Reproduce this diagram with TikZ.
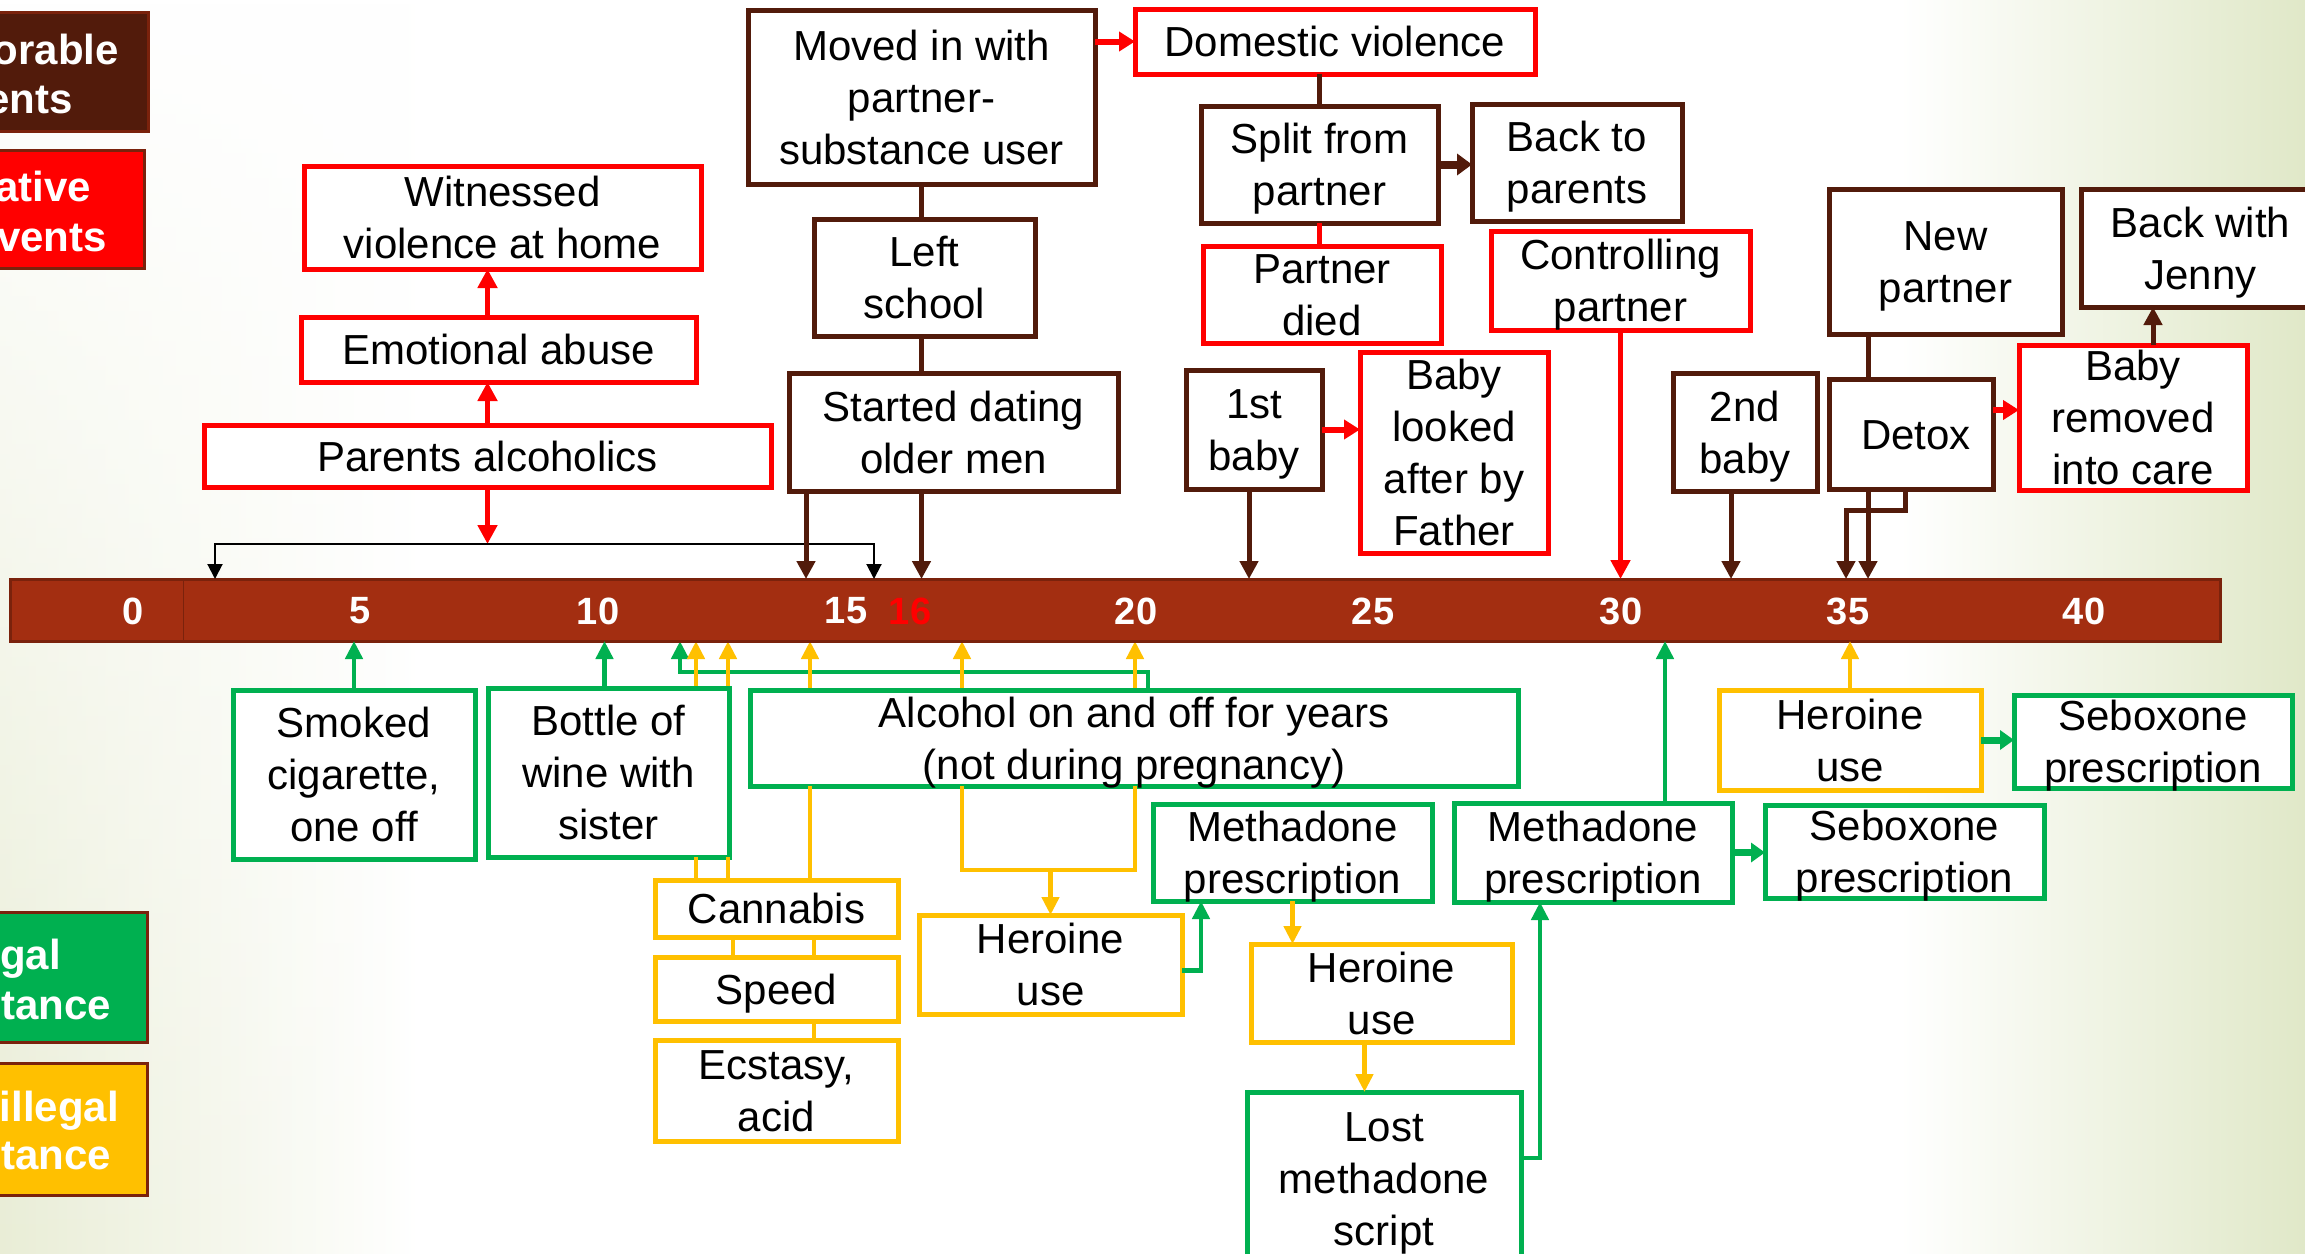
\documentclass[tikz,border=0pt]{standalone}
\usepackage{fontspec}
\setmainfont{Liberation Sans}
\usetikzlibrary{arrows.meta,fadings}
\definecolor{brn}{HTML}{521B0B}
\definecolor{rd}{HTML}{FF0000}
\definecolor{grn}{HTML}{00B050}
\definecolor{ylw}{HTML}{FFC000}
\definecolor{barf}{HTML}{A32E11}
\definecolor{bard}{HTML}{7A220C}
\definecolor{tint}{HTML}{E0E8C8}
\definecolor{tintl}{HTML}{E9EDD6}
\pgfdeclarelayer{back}
\pgfdeclarelayer{bg}
\pgfsetlayers{back,bg,main}
\newcommand\mybox[7]{\node[#2,minimum width={(#5)-(#3)},minimum height={(#6)-(#4)}] (#1) at ({((#3)+(#5))/2},{((#4)+(#6))/2}) {#7};}
\newcommand\tb[1]{\raisebox{-5pt}[\dimexpr\height-10pt\relax][\dimexpr\depth-10pt\relax]{\begin{tabular}{@{}c@{}}#1\end{tabular}}}
\tikzset{
  box/.style={draw, line width=5pt, fill=white, inner sep=0pt, outer sep=0pt, text=black, font=\fontsize{42}{52}\selectfont},
  bbox/.style={box, draw=brn},
  rbox/.style={box, draw=rd},
  gbox/.style={box, draw=grn},
  ybox/.style={box, draw=ylw},
  legbox/.style={inner sep=0pt, outer sep=0pt, line width=3pt, draw=bard},
  legtext/.style={anchor=base east, inner sep=0pt, text=white, font=\fontsize{42}{52}\selectfont\bfseries},
  tick/.style={inner sep=0pt, text=white, font=\fontsize{38}{40}\selectfont\bfseries},
  ra/.style={draw=rd, line width=5pt, -{Triangle[width=19pt,length=19pt]}},
  rline/.style={draw=rd, line width=5pt},
  rshort/.style={draw=rd, line width=6pt, -{Triangle[width=19pt,length=16pt]}},
  ba/.style={draw=brn, line width=5pt, -{Triangle[width=18pt,length=18pt]}},
  bline/.style={draw=brn, line width=5pt},
  bshort/.style={draw=brn, line width=8pt, -{Triangle[width=21pt,length=15pt]}},
  ya/.style={draw=ylw, line width=4.5pt, -{Triangle[width=17pt,length=18pt]}},
  yline/.style={draw=ylw, line width=4.5pt},
  ga/.style={draw=grn, line width=4.5pt, -{Triangle[width=17pt,length=18pt]}},
  gshort/.style={draw=grn, line width=7pt, -{Triangle[width=19pt,length=14pt]}},
  kline/.style={draw=black, line width=2pt}
}
\begin{document}
\begin{tikzpicture}[x=1pt,y=-1pt]
\useasboundingbox (0,0) rectangle (2305,1253);
\clip (0,0) rectangle (2305,1253);
\begin{pgfonlayer}{back}
  \fill[white] (0,0) rectangle (2305,1253);
  \shade[left color=tintl, right color=white, path fading=north] (0,0) rectangle (420,1253);
  \shade[left color=white, right color=tint] (1900,0) rectangle (2305,1253);
\end{pgfonlayer}

% legend
\mybox{lgA}{legbox,fill=brn}{-30}{12}{148}{131}{}
\mybox{lgB}{legbox,fill=rd}{-30}{150}{144}{268}{}
\mybox{lgC}{legbox,fill=grn}{-30}{912}{147}{1042}{}
\mybox{lgD}{legbox,fill=ylw}{-30}{1063}{147}{1195}{}
\node[legtext] (lgAa) at (119,64) {orable};
\node[legtext] (lgAb) at (73,113) {ents};
\node[legtext] (lgBa) at (91,201) {ative};
\node[legtext] (lgBb) at (107,251) {vents};
\node[legtext] (lgCa) at (61,969) {gal};
\node[legtext] (lgCb) at (111,1019) {tance};
\node[legtext] (lgDa) at (119,1121) {illegal};
\node[legtext] (lgDb) at (111,1169) {tance};

% timeline bar
\node[draw=bard, fill=barf, line width=3pt, inner sep=0pt, outer sep=0pt, minimum width=2210pt, minimum height=62pt] (bar) at (1115,610) {};
\draw[bard, line width=1pt] ([xshift=173pt]bar.north west) -- ([xshift=173pt]bar.south west);
\node[tick] (t0) at (133,611) {0};
\node[tick] (t5) at (360,611) {5};
\node[tick] (t10) at (598,611) {10};
\node[tick] (t15) at (846,611) {15};
\node[tick, text=rd] (t16) at (910,611) {16};
\node[tick] (t20) at (1136,611) {20};
\node[tick] (t25) at (1373,611) {25};
\node[tick] (t30) at (1621,611) {30};
\node[tick] (t35) at (1848,611) {35};
\node[tick] (t40) at (2084,611) {40};

% upper boxes
\mybox{witn}{rbox}{304}{166}{701}{269}{\tb{Witnessed\\violence at home}}
\mybox{emo}{rbox}{301}{317}{696}{382}{\tb{Emotional abuse}}
\mybox{par}{rbox}{204}{425}{771}{487}{\tb{Parents alcoholics}}
\mybox{moved}{bbox}{748}{10}{1095}{184}{\tb{Moved in with\\partner-\\substance user}}
\mybox{dom}{rbox}{1135}{9}{1535}{74}{\tb{Domestic violence}}
\mybox{lschool}{bbox}{814}{219}{1035}{336}{\tb{Left\\school}}
\mybox{start}{bbox}{789}{373}{1118}{491}{\tb{Started dating\\older men}}
\mybox{split}{bbox}{1201}{106}{1438}{223}{\tb{Split from\\partner}}
\mybox{back}{bbox}{1472}{104}{1682}{221}{\tb{Back to\\parents}}
\mybox{died}{rbox}{1203}{246}{1441}{343}{\tb{Partner\\died}}
\mybox{ctrl}{rbox}{1491}{231}{1750}{330}{\tb{Controlling\\partner}}
\mybox{babyA}{bbox}{1186}{370}{1322}{489}{\tb{1st\\baby}}
\mybox{looked}{rbox}{1360}{352}{1548}{553}{\tb{Baby\\looked\\after by\\Father}}
\mybox{babyB}{bbox}{1673}{373}{1817}{491}{\tb{2nd\\baby}}
\mybox{newp}{bbox}{1829}{189}{2062}{334}{\tb{New\\partner}}
\mybox{detox}{bbox}{1829}{379}{1993}{489}{\tb{\hspace{10pt}Detox}}
\mybox{jenny}{bbox}{2081}{189}{2320}{307}{\tb{Back with\\Jenny}}
\mybox{removed}{rbox}{2019}{345}{2247}{490}{\tb{Baby\\removed\\into care}}

% lower boxes
\mybox{smoked}{gbox}{233}{690}{475}{859}{\tb{Smoked\\cigarette,\\one off}}
\mybox{bottle}{gbox}{488}{688}{729}{857}{\tb{Bottle of\\wine with\\sister}}
\mybox{alc}{gbox}{750}{690}{1518}{786}{\tb{Alcohol on and off for years\\(not during pregnancy)}}
\mybox{cann}{ybox}{655}{880}{898}{937}{\tb{Cannabis}}
\mybox{speed}{ybox}{655}{957}{898}{1021}{\tb{Speed}}
\mybox{ecst}{ybox}{655}{1040}{898}{1141}{\tb{Ecstasy,\\acid}}
\mybox{herA}{ybox}{919}{915}{1182}{1014}{\tb{Heroine\\use}}
\mybox{methA}{gbox}{1153}{804}{1432}{901}{\tb{Methadone\\prescription}}
\mybox{herB}{ybox}{1251}{944}{1512}{1042}{\tb{Heroine\\use}}
\mybox{lost}{gbox}{1247}{1092}{1521}{1264}{\tb{Lost\\methadone\\script}}
\mybox{methB}{gbox}{1454}{803}{1732}{902}{\tb{Methadone\\prescription}}
\mybox{seboA}{gbox}{1765}{805}{2044}{898}{\tb{Seboxone\\prescription}}
\mybox{herC}{ybox}{1719}{690}{1981}{790}{\tb{Heroine\\use}}
\mybox{seboB}{gbox}{2014}{695}{2292}{788}{\tb{Seboxone\\prescription}}

% helper coordinates
\coordinate (brL) at (215,544);
\coordinate (brR) at (874,544);
\coordinate (sA) at ([xshift=17pt]start.south west);
\coordinate (bA) at ([xshift=-5pt]babyA.south);
\coordinate (bB) at ([xshift=-14pt]babyB.south);
\coordinate (nA) at ([xshift=39pt]newp.south west);
\coordinate (dA) at ([xshift=39pt]detox.south west);
\coordinate (dB) at ([xshift=76pt]detox.south west);
\coordinate (dC) at ([xshift=17pt]detox.south west);
\coordinate (dE) at ([yshift=24pt]detox.east);
\coordinate (rJ) at ([xshift=20pt]removed.north);
\coordinate (bo) at ([xshift=-4pt]bottle.north);
\coordinate (gA) at ([xshift=398pt]alc.north west);
\coordinate (gB) at ([xshift=-70pt]alc.north west);
\coordinate (cA) at ([xshift=41pt]cann.north west);
\coordinate (cB) at ([xshift=73pt]cann.north west);
\coordinate (cC) at ([xshift=155pt]cann.north west);
\coordinate (cD) at ([xshift=78pt]cann.south west);
\coordinate (cE) at ([xshift=159pt]cann.south west);
\coordinate (aL) at ([xshift=212pt]alc.south west);
\coordinate (aR) at ([xshift=385pt]alc.south west);
\coordinate (yj) at ([yshift=-84pt]alc.south);
\coordinate (hA) at ([yshift=-6pt]herA.east);
\coordinate (mA) at ([xshift=48pt]methA.south west);
\coordinate (hB) at ([xshift=-17pt]herB.south);
\coordinate (lA) at ([yshift=20pt]lost.east);
\coordinate (mB) at ([xshift=86pt]methB.south west);
\coordinate (mC) at ([xshift=211pt]methB.north west);

% connectors behind boxes
\begin{pgfonlayer}{bg}
  \draw[ga] (gA) -- ++(0,-18) -| (gB |- bar.south);
  \draw[ya] (cA) -- (cA |- bar.south);
  \draw[ya] (cB) -- (cB |- bar.south);
  \draw[ya] (cC) -- (cC |- bar.south);
  \draw[ya] (aL) -- (aL |- bar.south);
  \draw[ya] (aR) -- (aR |- bar.south);
\end{pgfonlayer}

% upper connectors
\draw[ra] (par.north) -- (par.north |- emo.south);
\draw[ra] (par.north |- emo.north) -- (par.north |- witn.south);
\draw[ra] (par.south) -- (par.south |- brL);
\draw[kline, {Triangle[width=15pt,length=15pt]}-{Triangle[width=15pt,length=15pt]}] (brL |- bar.north) -- (brL) -- (brR) -- (brR |- bar.north);
\draw[rshort] (moved.east |- dom.west) -- (dom.west);
\draw[bline] (moved.south) -- (moved.south |- lschool.north);
\draw[bline] (moved.south |- lschool.south) -- (moved.south |- start.north);
\draw[ba] (sA) -- (sA |- bar.north);
\draw[ba] (moved.south |- start.south) -- (moved.south |- bar.north);
\draw[bline] (split.north |- dom.south) -- (split.north);
\draw[bshort] (split.east) -- (split.east -| back.west);
\draw[rline] (split.south) -- (split.south |- died.north);
\draw[ra] (ctrl.south) -- (ctrl.south |- bar.north);
\draw[rshort] (babyA.east) -- (babyA.east -| looked.west);
\draw[ba] (bA) -- (bA |- bar.north);
\draw[ba] (bB) -- (bB |- bar.north);
\draw[bline] (nA) -- (nA |- detox.north);
\draw[ba] (dA) -- (dA |- bar.north);
\draw[ba] (dB) -- ++(0,21) -| (dC |- bar.north);
\draw[rshort] (dE) -- (dE -| removed.west);
\draw[ba] (rJ) -- (rJ |- jenny.south);

% lower connectors
\draw[ga] (smoked.north) -- (smoked.north |- bar.south);
\draw[ga] (bo) -- (bo |- bar.south);
\draw[yline] (cA |- bottle.south) -- (cA);
\draw[yline] (cB |- bottle.south) -- (cB);
\draw[yline] (cC |- alc.south) -- (cC);
\draw[yline] (cD) -- (cD |- speed.north);
\draw[yline] (cE) -- (cE |- speed.north);
\draw[yline] (cE |- speed.south) -- (cE |- ecst.north);
\draw[yline] (aL) -- (aL |- yj) -- (aR |- yj) -- (aR);
\draw[ya] (herA.north |- yj) -- (herA.north);
\draw[ga] (hA) -| (mA);
\draw[ya] (methA.south) -- (methA.south |- herB.north);
\draw[ya] (hB) -- (hB |- lost.north);
\draw[ga] (lA) -| (mB);
\draw[ga] (mC) -- (mC |- bar.south);
\draw[gshort] (methB.east) -- (methB.east -| seboA.west);
\draw[ya] (herC.north) -- (herC.north |- bar.south);
\draw[gshort] (herC.east) -- (herC.east -| seboB.west);
\end{tikzpicture}
\end{document}
